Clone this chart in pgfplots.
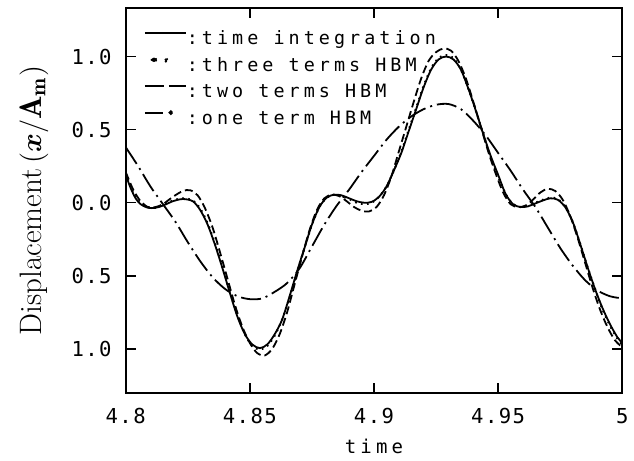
\documentclass[border=0pt]{standalone}
\usepackage{amsmath}
\usepackage{fontspec}
\usepackage{pgfplots}
\pgfplotsset{compat=1.18}
\newfontfamily\plotfont[LetterSpace=22]{DejaVu Sans Mono}
\newfontfamily\tickfont[LetterSpace=7]{DejaVu Sans Mono}

\begin{document}
\begin{tikzpicture}
\begin{axis}[
    scale only axis,
    width=248.3pt, height=192.2pt,
    xmin=4.8, xmax=5,
    ymin=-1.3, ymax=1.33,
    axis line style={line width=1pt},
    tick align=inside,
    tick pos=both,
    major tick length=5pt,
    every tick/.style={black, line width=0.8pt},
    xtick={4.8,4.85,4.9,4.95,5},
    xticklabels={4.8,4.85,4.9,4.95,5},
    ytick={-1,-0.5,0,0.5,1},
    yticklabels={1.0,0.5,0.0,0.5,1.0},
    xticklabel style={font=\tickfont\fontsize{10.3}{12}\selectfont, anchor=center, yshift=-11.7pt},
    yticklabel style={font=\tickfont\fontsize{10.3}{12}\selectfont, anchor=east, inner sep=0pt, xshift=-6.85pt},
    xlabel={time},
    xlabel style={font=\plotfont\fontsize{9.5}{11}\selectfont, at={(axis description cs:0.5,-0.14)}, anchor=center},
    ylabel={Displacement\,$(\boldsymbol{x}/\mathbf{A}_{\mathbf{m}})$},
    ylabel style={font=\fontsize{15.5}{18}\selectfont, at={(axis description cs:-0.185,0.5)}, anchor=center},
    legend cell align=left,
    legend style={draw=none, fill=none, at={(axis description cs:0.0369,0.943)}, anchor=north west,
        inner sep=0pt, outer sep=0pt, row sep=4.2pt,
        font=\plotfont\fontsize{9.2}{11}\selectfont,
        nodes={inner sep=0pt, text height=7pt, text depth=2pt},
        /tikz/every even column/.append style={column sep=1pt}},
    legend image code/.code={\draw[#1] (0pt,3.3pt) -- (20.5pt,3.3pt);},
]

% time integration
\addplot[black, line width=0.9pt, smooth] coordinates {
(4.800,0.19) (4.802,0.10) (4.804,0.03) (4.806,-0.01) (4.809,-0.035) (4.812,-0.035)
(4.815,-0.02) (4.819,0.01) (4.823,0.025) (4.827,0.01) (4.830,-0.05) (4.833,-0.15)
(4.836,-0.29) (4.839,-0.45) (4.842,-0.62) (4.845,-0.78) (4.848,-0.90) (4.851,-0.97)
(4.854,-0.995) (4.857,-0.97) (4.860,-0.90) (4.863,-0.80) (4.866,-0.64) (4.869,-0.47)
(4.872,-0.31) (4.875,-0.15) (4.878,-0.03) (4.881,0.035) (4.884,0.055) (4.887,0.05)
(4.890,0.03) (4.893,0.01) (4.896,0.0) (4.899,0.005) (4.902,0.04) (4.905,0.11)
(4.908,0.22) (4.911,0.34) (4.914,0.49) (4.917,0.64) (4.920,0.79) (4.923,0.91)
(4.926,0.98) (4.929,1.0) (4.932,0.98) (4.935,0.91) (4.938,0.78) (4.941,0.63)
(4.944,0.47) (4.947,0.32) (4.950,0.19) (4.953,0.06) (4.956,-0.01) (4.959,-0.03)
(4.962,-0.025) (4.965,-0.005) (4.968,0.015) (4.971,0.03) (4.974,0.02) (4.977,-0.03)
(4.980,-0.13) (4.983,-0.28) (4.986,-0.44) (4.989,-0.59) (4.992,-0.72) (4.995,-0.83)
(4.998,-0.92) (5.000,-0.96)
};
\addlegendentry{:time integration}

% three terms HBM
\addplot[black, line width=1pt, dash pattern=on 0.8pt off 2.2pt, smooth,
    legend image code/.code={\fill (4.5pt,3.3pt) circle (1.1pt); \fill (10.5pt,3.3pt) circle (0.8pt); \path[draw=none] (0pt,3.3pt) -- (20.5pt,3.3pt);}] coordinates {
(4.800,0.20) (4.802,0.11) (4.804,0.04) (4.806,-0.005) (4.809,-0.03) (4.812,-0.035)
(4.815,-0.015) (4.819,0.015) (4.823,0.03) (4.827,0.015) (4.830,-0.04) (4.833,-0.14)
(4.836,-0.28) (4.839,-0.44) (4.842,-0.61) (4.845,-0.77) (4.848,-0.90) (4.851,-0.98)
(4.854,-1.005) (4.857,-0.98) (4.860,-0.91) (4.863,-0.80) (4.866,-0.65) (4.869,-0.48)
(4.872,-0.31) (4.875,-0.15) (4.878,-0.03) (4.881,0.035) (4.884,0.055) (4.887,0.045)
(4.890,0.025) (4.893,0.0) (4.896,-0.01) (4.899,0.0) (4.902,0.04) (4.905,0.11)
(4.908,0.22) (4.911,0.35) (4.914,0.50) (4.917,0.65) (4.920,0.80) (4.923,0.92)
(4.926,0.99) (4.929,1.01) (4.932,0.99) (4.935,0.91) (4.938,0.78) (4.941,0.63)
(4.944,0.47) (4.947,0.31) (4.950,0.18) (4.953,0.06) (4.956,-0.01) (4.959,-0.03)
(4.962,-0.02) (4.965,0.0) (4.968,0.02) (4.971,0.035) (4.974,0.025) (4.977,-0.03)
(4.980,-0.13) (4.983,-0.28) (4.986,-0.44) (4.989,-0.59) (4.992,-0.73) (4.995,-0.84)
(4.998,-0.93) (5.000,-0.97)
};
\addlegendentry{:three terms HBM}

% two terms HBM
\addplot[black, line width=0.9pt, dash pattern=on 4pt off 2pt, smooth,
    legend image code/.code={\draw[solid, line width=0.9pt] (0pt,3.3pt) -- (9.5pt,3.3pt); \draw[solid, line width=0.9pt] (12pt,3.3pt) -- (20.5pt,3.3pt);}] coordinates {
(4.800,0.21) (4.803,0.09) (4.806,0.01) (4.809,-0.03) (4.812,-0.03) (4.815,-0.01)
(4.819,0.04) (4.823,0.08) (4.826,0.085) (4.829,0.05) (4.832,-0.04) (4.835,-0.17)
(4.838,-0.34) (4.841,-0.52) (4.844,-0.70) (4.847,-0.85) (4.850,-0.96) (4.853,-1.03)
(4.856,-1.045) (4.859,-1.00) (4.862,-0.90) (4.865,-0.75) (4.868,-0.56) (4.871,-0.37)
(4.874,-0.19) (4.877,-0.05) (4.880,0.03) (4.883,0.055) (4.886,0.045) (4.889,0.01)
(4.892,-0.03) (4.895,-0.055) (4.898,-0.06) (4.901,-0.03) (4.904,0.05) (4.907,0.18)
(4.910,0.35) (4.913,0.52) (4.916,0.69) (4.919,0.85) (4.922,0.97) (4.925,1.03)
(4.928,1.055) (4.931,1.04) (4.934,0.97) (4.937,0.85) (4.940,0.69) (4.943,0.52)
(4.946,0.35) (4.949,0.20) (4.952,0.07) (4.955,-0.01) (4.958,-0.03) (4.961,-0.02)
(4.964,0.02) (4.967,0.07) (4.970,0.095) (4.973,0.08) (4.976,0.02) (4.979,-0.09)
(4.982,-0.24) (4.985,-0.41) (4.988,-0.58) (4.991,-0.73) (4.994,-0.85) (4.997,-0.94)
(5.000,-0.99)
};
\addlegendentry{:two terms HBM}

% one term HBM
\addplot[black, line width=0.9pt, dash pattern=on 10pt off 2.5pt on 1pt off 2.5pt, smooth,
    legend image code/.code={\draw[solid, line width=0.9pt] (0pt,3.3pt) -- (9pt,3.3pt); \fill (13pt,3.3pt) circle (0.7pt); \path[draw=none] (0pt,3.3pt) -- (20.5pt,3.3pt);}] coordinates {
(4.800,0.38) (4.805,0.25) (4.810,0.11) (4.815,-0.01) (4.820,-0.13) (4.825,-0.27)
(4.830,-0.40) (4.835,-0.51) (4.840,-0.59) (4.845,-0.64) (4.850,-0.66) (4.855,-0.655)
(4.860,-0.61) (4.865,-0.55) (4.870,-0.45) (4.875,-0.30) (4.880,-0.15) (4.885,-0.02)
(4.890,0.09) (4.895,0.21) (4.900,0.32) (4.905,0.43) (4.910,0.52) (4.915,0.59)
(4.920,0.64) (4.925,0.67) (4.930,0.675) (4.935,0.64) (4.940,0.56) (4.945,0.46)
(4.950,0.34) (4.955,0.22) (4.960,0.09) (4.965,-0.03) (4.970,-0.17) (4.975,-0.31)
(4.980,-0.43) (4.985,-0.53) (4.990,-0.60) (4.995,-0.64) (5.000,-0.655)
};
\addlegendentry{:one term HBM}

\end{axis}
\pgfresetboundingbox
\useasboundingbox ([shift={(-62.85pt,-33.65pt)}]current axis.south west) rectangle ([shift={(5.85pt,4.15pt)}]current axis.north east);
\end{tikzpicture}
\end{document}
